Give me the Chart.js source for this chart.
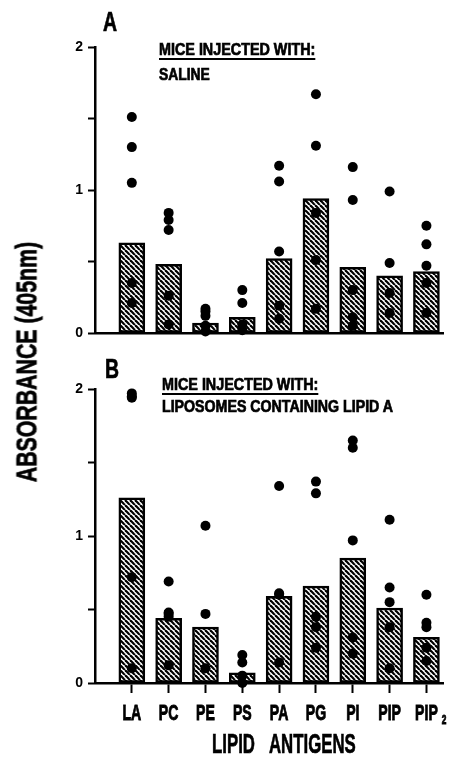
<!DOCTYPE html>
<html>
<head>
<meta charset="utf-8">
<script src="https://cdn.jsdelivr.net/npm/chart.js@4/dist/chart.umd.min.js"></script>
<style>
  html, body { margin: 0; padding: 0; background: #fff; }
  body { width: 449px; height: 759px; position: relative; overflow: hidden;
         font-family: "Liberation Sans", Arial, sans-serif; font-weight: bold; color: #000; }
  canvas { position: absolute; left: 0; }
  .t { position: absolute; white-space: nowrap; line-height: 1; -webkit-text-stroke: 0.7px #000;
       transform-origin: 0 0; }
  .u { text-decoration: underline; text-decoration-thickness: 2px; text-underline-offset: 3px; }
</style>
</head>
<body>
<canvas id="cA" width="449" height="360" style="top:0"></canvas>
<canvas id="cB" width="449" height="399" style="top:360px"></canvas>

<div class="t" style="left:103px; top:9px; font-size:27px; transform: scaleX(0.72);">A</div>
<div class="t u" style="left:159px; top:41px; font-size:16.5px; transform: scaleX(0.87);">MICE INJECTED WITH:</div>
<div class="t" style="left:159px; top:66px; font-size:16.5px; transform: scaleX(0.84);">SALINE</div>

<div class="t" style="left:105px; top:356px; font-size:27px; transform: scaleX(0.72);">B</div>
<div class="t u" style="left:162px; top:376px; font-size:16.5px; transform: scaleX(0.87);">MICE INJECTED WITH:</div>
<div class="t" style="left:162px; top:398px; font-size:16.5px; transform: scaleX(0.86);">LIPOSOMES CONTAINING LIPID A</div>

<div class="t" style="left:212px; top:730px; font-size:28px; transform: scaleX(0.6);">LIPID&nbsp;&nbsp;&nbsp;ANTIGENS</div>
<div class="t" style="left:27px; top:362px; font-size:29px; transform-origin: 50% 50%; transform: translate(-50%, -50%) rotate(-90deg) scaleX(0.735);">ABSORBANCE (405nm)</div>

<script>
// ---- data ----
const categories = ['LA', 'PC', 'PE', 'PS', 'PA', 'PG', 'PI', 'PIP', 'PIP\u2082'];
const yTicks = [0, 0.5, 1, 1.5, 2];
const yTickLabels = ['0', '', '1', '', '2'];

// Panel A: mice injected with saline
const meanA = [0.63, 0.48, 0.07, 0.11, 0.52, 0.94, 0.46, 0.40, 0.43];
const dotsA_LA  = [1.51, 1.30, 1.05, 0.35, 0.21];
const dotsA_PC  = [0.84, 0.79, 0.72, 0.26, 0.06];
const dotsA_PE  = [0.17, 0.15, 0.12, 0.05, 0.01];
const dotsA_PS  = [0.30, 0.21, 0.06, 0.02];
const dotsA_PA  = [1.17, 1.06, 0.57, 0.19, 0.10];
const dotsA_PG  = [1.67, 1.31, 0.84, 0.51, 0.17];
const dotsA_PI  = [1.16, 0.93, 0.30, 0.11, 0.05];
const dotsA_PIP = [0.99, 0.49, 0.28, 0.14];
const dotsA_PIP2 = [0.75, 0.62, 0.47, 0.35, 0.14];

// Panel B: mice injected with liposomes containing lipid A
const meanB = [1.26, 0.44, 0.38, 0.07, 0.59, 0.66, 0.85, 0.51, 0.31];
const dotsB_LA  = [1.97, 1.95, 1.94, 0.72, 0.10];
const dotsB_PC  = [0.69, 0.48, 0.47, 0.45, 0.12];
const dotsB_PE  = [1.07, 0.47, 0.10];
const dotsB_PS  = [0.19, 0.14, 0.05, 0.00];
const dotsB_PA  = [1.34, 0.61, 0.60, 0.14];
const dotsB_PG  = [1.37, 1.29, 0.45, 0.38, 0.24];
const dotsB_PI  = [1.65, 1.60, 0.97, 0.31, 0.20];
const dotsB_PIP = [1.11, 0.65, 0.55, 0.38, 0.10];
const dotsB_PIP2 = [0.60, 0.41, 0.38, 0.24, 0.15];

const dotsA = [dotsA_LA, dotsA_PC, dotsA_PE, dotsA_PS, dotsA_PA, dotsA_PG, dotsA_PI, dotsA_PIP, dotsA_PIP2];
const dotsB = [dotsB_LA, dotsB_PC, dotsB_PE, dotsB_PS, dotsB_PA, dotsB_PG, dotsB_PI, dotsB_PIP, dotsB_PIP2];

// ---- hatch pattern ----
function makeHatch() {
  const s = 5;
  const c = document.createElement('canvas');
  c.width = s; c.height = s;
  const g = c.getContext('2d');
  g.fillStyle = '#fff'; g.fillRect(0, 0, s, s);
  g.strokeStyle = '#000'; g.lineWidth = 2.2;
  for (let k = -1; k <= 1; k++) {
    g.beginPath(); g.moveTo(k * s, 0); g.lineTo(k * s + s, s); g.stroke();
  }
  return g.createPattern(c, 'repeat');
}
const hatch = makeHatch();

const FONT = '"Liberation Sans", Arial, sans-serif';

// draws the category tick labels (from the x scale) in a tall condensed style
const narrowXLabels = {
  id: 'narrowXLabels',
  afterDraw(chart, args, opts) {
    if (!opts.show) return;
    const s = chart.scales.x;
    const ctx = chart.ctx;
    const yBase = s.top + 37;
    ctx.save();
    ctx.fillStyle = '#000'; ctx.strokeStyle = '#000'; ctx.lineWidth = 0.9;
    ctx.textAlign = 'center'; ctx.textBaseline = 'alphabetic';
    s.ticks.forEach((t) => {
      let label = categories[t.value];
      const x = s.getPixelForValue(t.value);
      let sub = null;
      if (label.endsWith('\u2082')) { sub = '2'; label = label.slice(0, -1); }
      ctx.save();
      ctx.translate(x, yBase);
      ctx.scale(0.64, 1);
      ctx.font = 'bold 22px ' + FONT;
      ctx.fillText(label, 0, 0); ctx.strokeText(label, 0, 0);
      if (sub) {
        ctx.font = 'bold 13px ' + FONT;
        ctx.textAlign = 'left';
        ctx.fillText(sub, 24, 4); ctx.strokeText(sub, 24, 4);
      }
      ctx.restore();
    });
    ctx.restore();
  }
};

function build(canvasId, means, dots, showX, pad, xHeight) {
  const barData = means.map((v, i) => ({ x: i, y: v }));
  const dotData = [];
  dots.forEach((arr, i) => arr.forEach(v => dotData.push({ x: i, y: v })));
  return new Chart(document.getElementById(canvasId), {
    data: {
      datasets: [
        { type: 'scatter', data: dotData, backgroundColor: '#000', borderColor: '#000',
          pointRadius: 5, pointBorderWidth: 0, clip: false, order: 0 },
        { type: 'bar', data: barData, backgroundColor: hatch, borderColor: '#000',
          borderWidth: 2.5, barThickness: 26, borderSkipped: false, order: 1 }
      ]
    },
    plugins: [narrowXLabels],
    options: {
      responsive: false, animation: false, devicePixelRatio: 1,
      layout: { padding: pad },
      plugins: { legend: { display: false }, tooltip: { enabled: false }, narrowXLabels: { show: showX } },
      scales: {
        x: {
          type: 'linear', min: -1, max: 8.45, offset: false,
          afterBuildTicks: (s) => { s.ticks = categories.map((c, i) => ({ value: i })); },
          afterFit: (s) => { s.height = xHeight; },
          border: { display: true, color: '#000', width: 2.5 },
          grid: { display: showX, offset: false, drawOnChartArea: false, drawTicks: true, tickLength: 10, tickWidth: 2, tickColor: '#000' },
          ticks: { display: false, callback: (v) => categories[v] }
        },
        y: {
          type: 'linear', min: 0, max: 2,
          afterBuildTicks: (s) => { s.ticks = yTicks.map(v => ({ value: v })); },
          afterFit: (s) => { s.width = 95; },
          border: { display: true, color: '#000', width: 2.5 },
          grid: { drawOnChartArea: false, drawTicks: true, tickLength: 7, tickWidth: 2, tickColor: '#000' },
          ticks: { padding: 5, color: '#000', font: { family: FONT, size: 14, weight: 'bold' },
                   callback: (v) => yTickLabels[yTicks.indexOf(v)] }
        }
      }
    }
  });
}

build('cA', meanA, dotsA, false, { left: 0, top: 47, right: 6, bottom: 0 }, 27);
build('cB', meanB, dotsB, true, { left: 0, top: 29, right: 6, bottom: 0 }, 76);
</script>
</body>
</html>
